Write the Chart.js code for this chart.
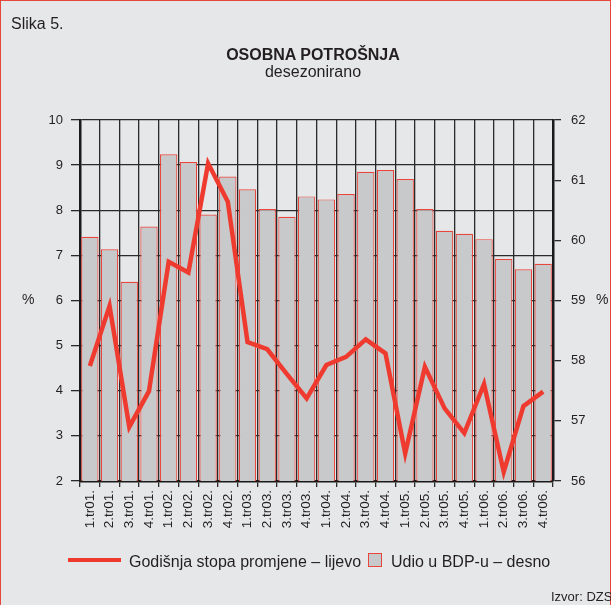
<!DOCTYPE html>
<html lang="hr">
  <head>
    <meta charset="UTF-8" />
    <title>Osobna potrošnja</title>
    <style>
      body,
      html {
        margin: 0;
        padding: 0;
        width: 611px;
        height: 605px;
        overflow: hidden;
        background: #e6e7e9;
        font-family: "Liberation Sans", Arial, sans-serif;
        color: #231f20;
      }
      .frame {
        position: absolute;
        left: 0;
        top: 0;
        width: 609px;
        height: 610px;
        border: 1px solid #e8463c;
      }
      .txt {
        position: absolute;
        white-space: nowrap;
      }
      #myChart {
        position: absolute;
        left: 0;
        top: 0;
      }
    </style>
  </head>
  <body>
    <div class="frame"></div>
    <canvas id="myChart" width="611" height="605"></canvas>

    <div class="txt" style="left: 11px; top: 16px; font-size: 16px; line-height: 16px">Slika 5.</div>
    <div class="txt" style="left: 0; width: 626px; text-align: center; top: 47px; font-size: 16px; line-height: 16px; font-weight: bold">OSOBNA POTROŠNJA</div>
    <div class="txt" style="left: 0; width: 626px; text-align: center; top: 64px; font-size: 16px; line-height: 16px">desezonirano</div>
    <div class="txt" style="left: 22px; top: 292px; font-size: 14px; line-height: 14px">%</div>
    <div class="txt" style="left: 596px; top: 292px; font-size: 14px; line-height: 14px">%</div>

    <!-- legenda -->
    <div style="position: absolute; left: 68px; top: 558px; width: 53px; height: 4px; background: #ef3b2f"></div>
    <div class="txt" style="left: 129px; top: 554px; font-size: 16px; line-height: 16px">Godišnja stopa promjene – lijevo</div>
    <div style="position: absolute; left: 368px; top: 553px; width: 12px; height: 12px; background: #c8c9cb; border: 1px solid #e8463c"></div>
    <div class="txt" style="left: 391px; top: 554px; font-size: 16px; line-height: 16px">Udio u BDP-u – desno</div>

    <div class="txt" style="left: 551px; top: 590px; font-size: 13px; line-height: 13px">Izvor: DZS</div>

    <script src="https://cdn.jsdelivr.net/npm/chart.js"></script>

    <script>
      // Tromjesečja
      const quarters = [
        "1.tr01.", "2.tr01.", "3.tr01.", "4.tr01.",
        "1.tr02.", "2.tr02.", "3.tr02.", "4.tr02.",
        "1.tr03.", "2.tr03.", "3.tr03.", "4.tr03.",
        "1.tr04.", "2.tr04.", "3.tr04.", "4.tr04.",
        "1.tr05.", "2.tr05.", "3.tr05.", "4.tr05.",
        "1.tr06.", "2.tr06.", "3.tr06.", "4.tr06.",
      ];

      // Godišnja stopa promjene (lijeva os, %)
      const growthRate = [
        4.55, 5.88, 3.2, 3.99,
        6.86, 6.62, 9.04, 8.19,
        5.08, 4.92, 4.37, 3.83,
        4.57, 4.75, 5.14, 4.83,
        2.61, 4.53, 3.61, 3.06,
        4.15, 2.2, 3.66, 3.98,
      ];

      // Udio u BDP-u (desna os, %)
      const gdpShare = [
        60.06, 59.85, 59.31, 60.23,
        61.43, 61.3, 60.43, 61.06,
        60.85, 60.52, 60.39, 60.73,
        60.68, 60.77, 61.14, 61.17,
        61.02, 60.52, 60.16, 60.11,
        60.02, 59.69, 59.52, 59.61,
      ];

      const leftTicks = { min: 2, max: 10, step: 1 };
      const rightTicks = { min: 56, max: 62, step: 1 };

      const ctx = document.getElementById("myChart").getContext("2d");
      const tickFont = { family: "'Liberation Sans', Arial, sans-serif", size: 13 };

      const myChart = new Chart(ctx, {
        type: "bar",
        data: {
          labels: quarters,
          datasets: [
            {
              type: "line",
              label: "Godišnja stopa promjene – lijevo",
              data: growthRate,
              yAxisID: "y",
              borderColor: "#ef3b2f",
              borderWidth: 4.5,
              pointRadius: 0,
              tension: 0,
              fill: false,
              order: 0,
            },
            {
              type: "bar",
              label: "Udio u BDP-u – desno",
              data: gdpShare,
              yAxisID: "y1",
              backgroundColor: "#c8c9cb",
              borderColor: "#e8463c",
              borderWidth: 1.2,
              barPercentage: 0.88,
              categoryPercentage: 1,
              order: 1,
            },
          ],
        },
        options: {
          responsive: false,
          animation: false,
          devicePixelRatio: 1,
          layout: { padding: { top: 120, left: 0, right: 0, bottom: 0 } },
          plugins: {
            legend: { display: false },
            title: { display: false },
            tooltip: { enabled: false },
          },
          scales: {
            x: {
              offset: true,
              grid: {
                offset: true,
                color: "#2a2a2a",
                lineWidth: 1.3,
                tickLength: 6,
              },
              border: { display: true, color: "#1a1a1a", width: 2.5 },
              ticks: {
                color: "#231f20",
                font: { family: tickFont.family, size: 13.5 },
                minRotation: 90,
                maxRotation: 90,
                padding: 3,
                autoSkip: false,
              },
              afterFit(scale) {
                scale.height = 124;
              },
            },
            y: {
              position: "left",
              min: leftTicks.min,
              max: leftTicks.max,
              ticks: {
                stepSize: leftTicks.step,
                color: "#231f20",
                font: tickFont,
                padding: 8,
              },
              grid: {
                color: "#2a2a2a",
                lineWidth: 1.3,
                tickLength: 9,
              },
              border: { display: true, color: "#1a1a1a", width: 2.5 },
              afterFit(scale) {
                scale.width = 80;
              },
            },
            y1: {
              position: "right",
              min: rightTicks.min,
              max: rightTicks.max,
              ticks: {
                stepSize: rightTicks.step,
                color: "#231f20",
                font: tickFont,
                padding: 10,
              },
              grid: {
                drawOnChartArea: false,
                color: "#2a2a2a",
                lineWidth: 1.3,
                tickLength: 8,
              },
              border: { display: true, color: "#1a1a1a", width: 2.5 },
              afterFit(scale) {
                scale.width = 58;
              },
            },
          },
        },
      });
    </script>
  </body>
</html>
